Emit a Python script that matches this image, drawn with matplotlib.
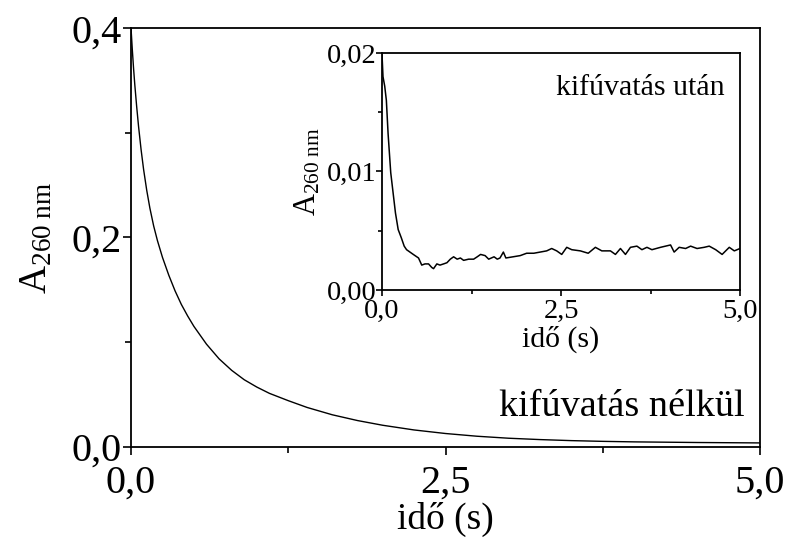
import matplotlib
matplotlib.use("Agg")
import matplotlib.pyplot as plt
from matplotlib.ticker import MultipleLocator, FuncFormatter

plt.rcParams['font.family'] = ['Liberation Serif', 'DejaVu Serif']
plt.rcParams['mathtext.fontset'] = 'custom'
plt.rcParams['mathtext.rm'] = 'Liberation Serif'
plt.rcParams['mathtext.it'] = 'Liberation Serif:italic'

# main curve (without blow-out)
t_main = [0, 0.01, 0.02, 0.03, 0.045, 0.06, 0.08, 0.1, 0.125, 0.15, 0.18, 0.21,
          0.25, 0.3, 0.35, 0.4, 0.45, 0.5, 0.6, 0.7, 0.8, 0.9, 1.0, 1.1, 1.25,
          1.4, 1.6, 1.8, 2.0, 2.25, 2.5, 2.75, 3.0, 3.25, 3.5, 3.75, 4.0, 4.5, 5.0]
a_main = [0.400, 0.380, 0.362, 0.346, 0.325, 0.306, 0.284, 0.265, 0.245, 0.228,
          0.211, 0.197, 0.181, 0.164, 0.149, 0.136, 0.125, 0.115, 0.098, 0.084,
          0.073, 0.064, 0.057, 0.051, 0.044, 0.0375, 0.0305, 0.025, 0.0205,
          0.016, 0.0126, 0.010, 0.0081, 0.0068, 0.0058, 0.0051, 0.0046, 0.0040,
          0.0036]

# inset curve (after blow-out)
t_ins = [0, 0.014, 0.038, 0.061, 0.085, 0.122, 0.155, 0.188, 0.226, 0.27, 0.31,
         0.343, 0.39, 0.437, 0.51, 0.555, 0.60, 0.65, 0.695, 0.72, 0.766, 0.81,
         0.86, 0.907, 0.954, 1.0, 1.05, 1.095, 1.14, 1.21, 1.28, 1.33, 1.377,
         1.44, 1.49, 1.565, 1.61, 1.648, 1.695, 1.73, 1.83, 1.93, 2.02, 2.12,
         2.21, 2.30, 2.37, 2.44, 2.51, 2.58, 2.65, 2.77, 2.88, 2.98, 3.07, 3.19,
         3.26, 3.33, 3.40, 3.47, 3.56, 3.63, 3.70, 3.77, 3.89, 3.96, 4.03, 4.08,
         4.15, 4.24, 4.31, 4.40, 4.50, 4.57, 4.66, 4.75, 4.85, 4.92, 5.0]
a_ins = [0.0199, 0.018, 0.0172, 0.016, 0.0132, 0.0099, 0.0082, 0.0065, 0.0051,
         0.0044, 0.0037, 0.0034, 0.0032, 0.0030, 0.0027, 0.0021, 0.0022, 0.0022,
         0.0019, 0.0018, 0.0022, 0.0021, 0.0022, 0.0023, 0.0026, 0.0028, 0.0026,
         0.0027, 0.0025, 0.0026, 0.0026, 0.0028, 0.0030, 0.0029, 0.0026, 0.0028,
         0.0026, 0.0027, 0.0032, 0.0027, 0.0028, 0.0029, 0.0031, 0.0031, 0.0032,
         0.0033, 0.0035, 0.0033, 0.0030, 0.0036, 0.0034, 0.0033, 0.0031, 0.0036,
         0.0033, 0.0033, 0.0030, 0.0035, 0.0030, 0.0036, 0.0037, 0.0034, 0.0036,
         0.0034, 0.0036, 0.0037, 0.0038, 0.0032, 0.0036, 0.0035, 0.0037, 0.0035,
         0.0036, 0.0037, 0.0034, 0.0030, 0.0036, 0.0033, 0.0035]

def comma(fmt):
    return FuncFormatter(lambda v, p: (fmt % v).replace('.', ','))

def style(ax, size, major, minor, xpad, ypad):
    ax.tick_params(which='both', direction='out', top=False, right=False,
                   width=1.2, labelsize=size)
    ax.tick_params(axis='x', pad=xpad)
    ax.tick_params(axis='y', pad=ypad)
    ax.tick_params(which='major', length=major)
    ax.tick_params(which='minor', length=minor)
    for s in ax.spines.values():
        s.set_linewidth(1.3)

fig = plt.figure(figsize=(7.86, 5.40), dpi=100)

ax = fig.add_axes([0.1667, 0.1728, 0.8002, 0.7748])
ax.plot(t_main, a_main, color='black', lw=1.0)
ax.set_xlim(0, 5)
ax.set_ylim(0, 0.4)
ax.xaxis.set_major_locator(MultipleLocator(2.5))
ax.xaxis.set_minor_locator(MultipleLocator(1.25))
ax.yaxis.set_major_locator(MultipleLocator(0.2))
ax.yaxis.set_minor_locator(MultipleLocator(0.1))
ax.xaxis.set_major_formatter(comma('%.1f'))
ax.yaxis.set_major_formatter(comma('%.1f'))
style(ax, 29, 6, 4.5, 7, 1)
ax.set_xlabel('idő (s)', fontsize=27, labelpad=0)
ax.set_ylabel(r'$\mathregular{A_{260\ nm}}$', fontsize=28, labelpad=11)
ax.text(0.976, 0.095, 'kifúvatás nélkül', transform=ax.transAxes,
        ha='right', va='center', fontsize=27.5)

ins = fig.add_axes([0.486, 0.463, 0.4555, 0.4389])
ins.plot(t_ins, a_ins, color='black', lw=1.1)
ins.set_xlim(0, 5)
ins.set_ylim(0, 0.02)
ins.xaxis.set_major_locator(MultipleLocator(2.5))
ins.xaxis.set_minor_locator(MultipleLocator(1.25))
ins.yaxis.set_major_locator(MultipleLocator(0.01))
ins.yaxis.set_minor_locator(MultipleLocator(0.005))
ins.xaxis.set_major_formatter(comma('%.1f'))
ins.yaxis.set_major_formatter(comma('%.2f'))
style(ins, 20.5, 4, 3, 2.5, 0)
ins.set_xlabel('idő (s)', fontsize=21.5, labelpad=1)
ins.set_ylabel(r'$\mathregular{A_{260\ nm}}$', fontsize=22, labelpad=3)
ins.text(0.958, 0.852, 'kifúvatás után', transform=ins.transAxes,
         ha='right', va='center', fontsize=21.5)

fig.savefig('out.png', dpi=100)
